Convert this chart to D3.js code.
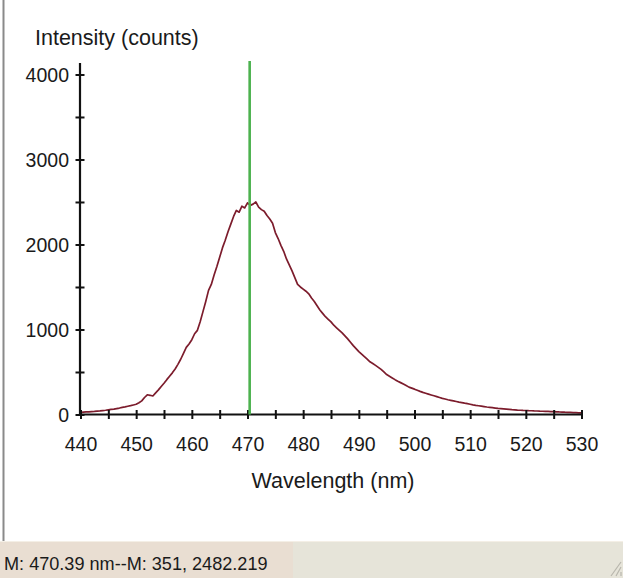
<!DOCTYPE html>
<html>
<head>
<meta charset="utf-8">
<script src="https://cdn.jsdelivr.net/npm/d3@7/dist/d3.min.js"></script>
<style>
  html, body { margin: 0; padding: 0; background: #ffffff; }
  svg { display: block; font-family: "Liberation Sans", Arial, sans-serif; }
</style>
</head>
<body>
<svg id="chart" width="623" height="578"></svg>
<script>
// Emission spectrum, 0.5 nm steps from 440 to 530 nm
const wavelengths = d3.range(440, 530.25, 0.5);
const intensity = [
  25, 28, 30, 31, 34, 36, 40, 42, 46, 50,
  55, 60, 64, 70, 76, 84, 90, 97, 104, 112,
  120, 138, 160, 200, 232, 226, 218, 255, 290, 330,
  368, 410, 450, 490, 535, 590, 650, 720, 790, 830,
  880, 950, 990, 1090, 1210, 1330, 1460, 1530, 1640, 1740,
  1850, 1960, 2050, 2150, 2240, 2330, 2400, 2380, 2450, 2430,
  2490, 2460, 2475, 2500, 2440, 2410, 2390, 2340, 2300, 2250,
  2140, 2070, 1990, 1920, 1830, 1760, 1690, 1610, 1530, 1500,
  1475, 1450, 1420, 1370, 1330, 1280, 1230, 1190, 1150, 1120,
  1090, 1050, 1020, 990, 960, 925, 890, 850, 810, 775,
  740, 710, 680, 650, 620, 600, 578, 555, 530, 500,
  470, 450, 430, 410, 392, 375, 358, 340, 322, 310,
  298, 285, 272, 260, 250, 240, 230, 220, 210, 200,
  190, 182, 174, 167, 160, 153, 146, 140, 133, 127,
  121, 114, 108, 103, 98, 93, 88, 84, 80, 76,
  72, 69, 66, 63, 60, 57, 55, 52, 50, 48,
  47, 45, 44, 42, 41, 39, 38, 37, 36, 34,
  33, 32, 30, 29, 27, 26, 24, 22, 21, 20,
  18
];

// Marker readout
const markerNm = 470.39;
const markerIndex = 351;
const markerValue = 2482.219;

const xTickValues = d3.range(440, 531, 5);
const xLabelValues = d3.range(440, 531, 10);
const yTickValues = d3.range(0, 4001, 500);
const yLabelValues = [0, 1000, 2000, 3000, 4000];

const data = wavelengths.map((w, i) => ({ w, v: intensity[i] }));

const svg = d3.select("#chart");

const x = d3.scaleLinear().domain([440, 530]).range([80.5, 581.5]);
const y = d3.scaleLinear().domain([0, 4135]).range([414.5, 63]);

// window frame on the left
svg.append("line")
  .attr("x1", 3.5).attr("x2", 3.5).attr("y1", 0).attr("y2", 541)
  .attr("stroke", "#8a8a8a").attr("stroke-width", 2);

// status bar
svg.append("rect").attr("x", 0).attr("y", 541).attr("width", 623).attr("height", 37).attr("fill", "#e6e4d9");
svg.append("rect").attr("x", 0).attr("y", 541).attr("width", 293).attr("height", 37).attr("fill", "#e9ded2");
svg.append("line").attr("x1", 0).attr("x2", 623).attr("y1", 541.5).attr("y2", 541.5)
  .attr("stroke", "#f4efe6").attr("stroke-width", 1);
svg.append("text")
  .attr("x", 4).attr("y", 570)
  .attr("font-size", 18.1).attr("fill", "#1a1a1a")
  .text(`M: ${markerNm} nm--M: ${markerIndex}, ${markerValue}`);
// resize grip
const grip = svg.append("g").attr("stroke", "#b8b6ac").attr("stroke-width", 1.2);
[0, 5, 10].forEach(o => {
  grip.append("line").attr("x1", 621 - o).attr("y1", 576).attr("x2", 621).attr("y2", 576 - o - 4);
});

// axis titles
svg.append("text")
  .attr("x", 35).attr("y", 45)
  .attr("font-size", 21.5).attr("fill", "#1a1a1a")
  .text("Intensity (counts)");
svg.append("text")
  .attr("x", 333).attr("y", 488)
  .attr("text-anchor", "middle")
  .attr("font-size", 21.5).attr("fill", "#1a1a1a")
  .text("Wavelength (nm)");

// spectrum trace
const line = d3.line().x(d => x(d.w)).y(d => y(d.v));
svg.append("path")
  .datum(data)
  .attr("d", line)
  .attr("fill", "none")
  .attr("stroke", "#7c1c2c")
  .attr("stroke-width", 1.7)
  .attr("stroke-linejoin", "round");

// x axis
const xAxis = d3.axisBottom(x)
  .tickValues(xTickValues)
  .tickSize(5)
  .tickFormat(d => xLabelValues.includes(d) ? d : "");
const gx = svg.append("g").attr("transform", `translate(0,${y(0)})`).call(xAxis);
gx.select(".domain").attr("d", `M${x(440)},0H${x(530)}`).attr("stroke", "#111").attr("stroke-width", 2.2);
gx.selectAll(".tick line").attr("y1", -4.5).attr("y2", 4.5).attr("stroke", "#111").attr("stroke-width", 2);
gx.selectAll(".tick text").attr("y", 36).attr("dy", 0)
  .attr("font-size", 19.5).attr("fill", "#1a1a1a").attr("font-family", "Liberation Sans, Arial, sans-serif");

// y axis
const yAxis = d3.axisLeft(y)
  .tickValues(yTickValues)
  .tickSize(5)
  .tickFormat(d => yLabelValues.includes(d) ? d : "");
const gy = svg.append("g").attr("transform", `translate(${x(440) - 0.5},0)`).call(yAxis);
gy.select(".domain").attr("d", `M0,${y(0)}V${y.range()[1]}`).attr("stroke", "#111").attr("stroke-width", 2.2);
gy.selectAll(".tick line").attr("x1", -4.5).attr("x2", 4.5).attr("stroke", "#111").attr("stroke-width", 2);
gy.selectAll(".tick text").attr("x", -11).attr("dy", "0.36em")
  .attr("font-size", 19.5).attr("fill", "#1a1a1a").attr("font-family", "Liberation Sans, Arial, sans-serif");

// marker line
svg.append("line")
  .attr("x1", x(markerNm)).attr("x2", x(markerNm))
  .attr("y1", 61).attr("y2", y(0))
  .attr("stroke", "#4cb24f").attr("stroke-width", 2.6);
</script>
</body>
</html>
